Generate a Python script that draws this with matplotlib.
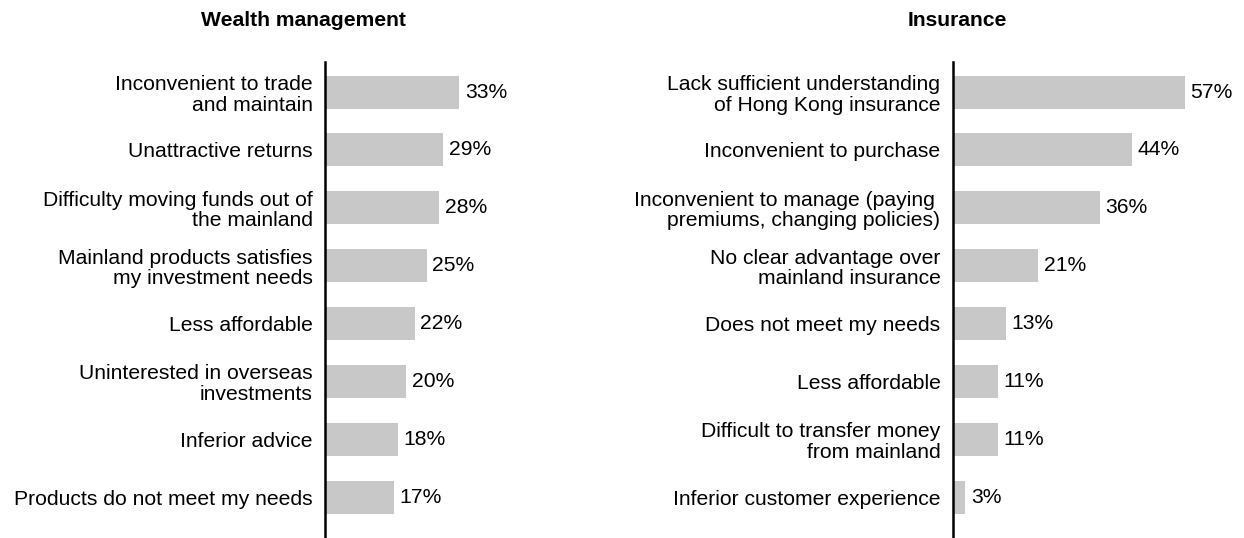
import matplotlib.pyplot as plt

plt.rcParams['font.family'] = ['Liberation Sans', 'DejaVu Sans']

wealth_labels = [
    "Inconvenient to trade\nand maintain",
    "Unattractive returns",
    "Difficulty moving funds out of\nthe mainland",
    "Mainland products satisfies\nmy investment needs",
    "Less affordable",
    "Uninterested in overseas\ninvestments",
    "Inferior advice",
    "Products do not meet my needs",
]
wealth_values = [33, 29, 28, 25, 22, 20, 18, 17]

insurance_labels = [
    "Lack sufficient understanding\nof Hong Kong insurance",
    "Inconvenient to purchase",
    "Inconvenient to manage (paying \npremiums, changing policies)",
    "No clear advantage over\nmainland insurance",
    "Does not meet my needs",
    "Less affordable",
    "Difficult to transfer money\nfrom mainland",
    "Inferior customer experience",
]
insurance_values = [57, 44, 36, 21, 13, 11, 11, 3]

W, H = 1244, 538
fig = plt.figure(figsize=(W / 100, H / 100), dpi=100)

px_per_pct = 4.07
bar_color = "#c8c8c8"
fs = 15.2


def panel(left_px, xmax, labels, values):
    width_px = xmax * px_per_pct
    ax = fig.add_axes([left_px / W, 1 / H, width_px / W, 475 / H])
    ypos = list(range(len(values)))
    ax.barh(ypos, values, height=0.57, color=bar_color)
    ax.set_xlim(0, xmax)
    ax.set_ylim(7.69, -0.52)
    for s in ["top", "right", "bottom"]:
        ax.spines[s].set_visible(False)
    ax.spines["left"].set_linewidth(1.8)
    ax.spines["left"].set_color("black")
    ax.set_xticks([])
    ax.set_yticks(ypos)
    ax.set_yticklabels(labels, fontsize=fs, ha="right", linespacing=1.1)
    ax.tick_params(axis="y", length=0, pad=9)
    for y, v in zip(ypos, values):
        ax.annotate(f"{v}%", (v, y), xytext=(4, 0), textcoords="offset points",
                    va="center", ha="left", fontsize=fs)
    return ax


panel(325, 50, wealth_labels, wealth_values)
panel(953, 70, insurance_labels, insurance_values)

fig.text(303 / W, 1 - 20 / H, "Wealth management", ha="center", va="center",
         fontsize=fs, fontweight="bold")
fig.text(957 / W, 1 - 20 / H, "Insurance", ha="center", va="center",
         fontsize=fs, fontweight="bold")

fig.savefig("out.png", dpi=100)
